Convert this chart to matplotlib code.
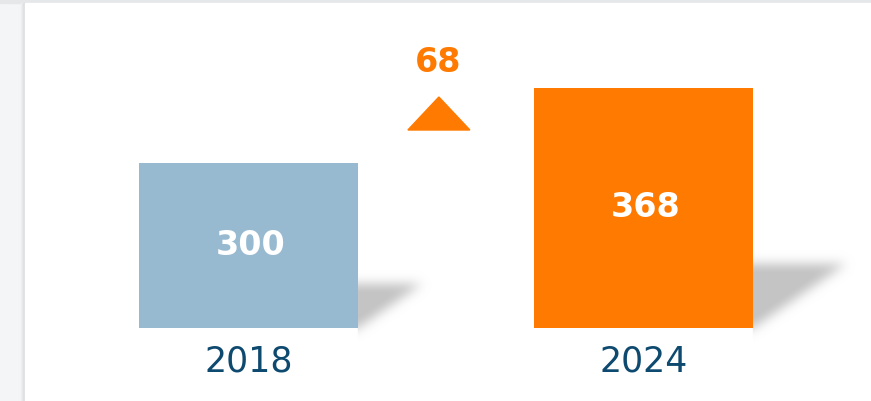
import numpy as np
import matplotlib
matplotlib.use("Agg")
import matplotlib.pyplot as plt
from matplotlib.patches import Rectangle, Polygon

# data
years = ["2018", "2024"]
values = [300, 368]
bar_colors = ["#98bad1", "#ff7a00"]
change = values[1] - values[0]

base = 150.4          # value axis does not start at zero in the original
text_blue = "#0e4a6f"
orange = "#ff7a00"

W, H = 871, 401
fig = plt.figure(figsize=(W / 100, H / 100), dpi=100, facecolor="#f4f5f7")
ax = fig.add_axes([0, 0, 1, 1])
ax.patch.set_visible(False)
ax.axis("off")

# scales: 395 px between bar centres, 1.103 px per value unit
px_x = 1 / 395.0
px_y = 1 / 1.103
ax.set_xlim(-248.5 * px_x, (W - 248.5) * px_x)
ax.set_ylim(base - (H - 328) * px_y, base + 328 * px_y)

# white card with soft edge on the left/top
tf = fig.transFigure
ax.add_patch(Rectangle((0, 1 - 3 / H), 1, 3 / H, transform=tf, color="#e6e7e9", zorder=0))
for i, c in enumerate(["#eff0f2", "#e9eaec", "#e2e3e5", "#dcdddf"]):
    ax.add_patch(Rectangle(((21 + i) / W, 0), 1, 1 - 3 / H, transform=tf, color=c, zorder=0))
ax.add_patch(Rectangle((25 / W, 0), 1, 1 - 3 / H, transform=tf, color="white", zorder=0))

x = np.arange(len(years))
width = 219 * px_x
bars = ax.bar(x, [v - base for v in values], bottom=base, width=width,
              color=bar_colors, zorder=3)


def gauss_blur(m, s):
    r = int(3 * s)
    k = np.exp(-0.5 * (np.arange(-r, r + 1) / s) ** 2)
    k /= k.sum()
    m = np.apply_along_axis(lambda row: np.convolve(row, k, mode="same"), 1, m)
    m = np.apply_along_axis(lambda col: np.convolve(col, k, mode="same"), 0, m)
    return m


# blurred drop shadows to the right of each bar
for xi, v in zip(x, values):
    hp = (v - base) / px_y          # bar height in px
    w_s, h_s = 0.39 * hp, 0.27 * hp
    pad = 24
    gx = np.arange(-pad, w_s + pad, 1.0)
    gy = np.arange(-pad, h_s + pad, 1.0)
    X, Y = np.meshgrid(gx, gy)
    tri = (Y <= h_s) & (Y >= -1) & (Y * w_s >= X * h_s)
    a = gauss_blur(tri.astype(float), 5.5)
    a[X < 0] = 0
    a = np.clip(a * 1.05, 0, 1)
    img = np.zeros(X.shape + (4,))
    img[..., :3] = 0.77
    img[..., 3] = a
    x0 = xi + width / 2
    ax.imshow(img[::-1], extent=(x0 + gx[0] * px_x, x0 + gx[-1] * px_x,
                                 base + gy[0] * px_y, base + gy[-1] * px_y),
              aspect="auto", interpolation="bilinear", zorder=2)

for xi, v in zip(x, values):
    ax.text(xi + 2 * px_x, (v + base) / 2, f"{v}", ha="center", va="center",
            color="white", fontsize=24, fontweight="bold", zorder=4)
    ax.text(xi, base - 34 * px_y, years[int(xi)], ha="center", va="center",
            color=text_blue, fontsize=25, zorder=4)

# change marker
tx = 0.482
tri_bottom = base + (328 - 130) * px_y
ax.add_patch(Polygon([(tx - 31 * px_x, tri_bottom), (tx + 31 * px_x, tri_bottom),
                      (tx, tri_bottom + 33 * px_y)], closed=True, color=orange, zorder=4))
ax.text(tx - 1 * px_x, base + (328 - 62) * px_y, f"{change}", ha="center", va="center",
        color=orange, fontsize=24, fontweight="bold", zorder=4)

fig.savefig("out.png", dpi=100, facecolor=fig.get_facecolor())
